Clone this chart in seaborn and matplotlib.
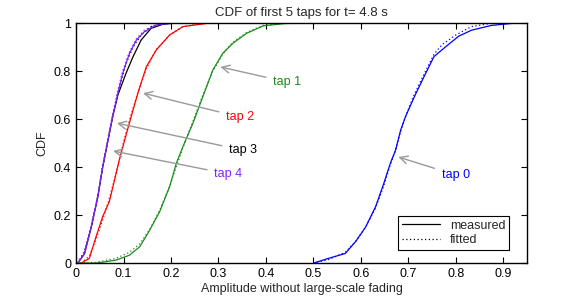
import matplotlib
matplotlib.use("Agg")
import matplotlib.pyplot as plt
from matplotlib.lines import Line2D
import pandas as pd
import seaborn as sns

# donnees (amplitude, CDF)
tap0_x = [0.50, 0.532, 0.567, 0.589, 0.610, 0.631, 0.648, 0.662, 0.673, 0.684, 0.694, 0.712, 0.729, 0.754, 0.778, 0.806, 0.833, 0.875, 0.926]
tap0_y = [0.0, 0.02, 0.04, 0.09, 0.15, 0.235, 0.33, 0.415, 0.47, 0.555, 0.61, 0.69, 0.76, 0.86, 0.90, 0.945, 0.97, 0.99, 1.0]
tap0_fit_x = [0.50, 0.532, 0.567, 0.589, 0.610, 0.631, 0.648, 0.662, 0.673, 0.684, 0.694, 0.712, 0.729, 0.754, 0.771, 0.80, 0.833, 0.875, 0.90]
tap0_fit_y = [0.0, 0.015, 0.045, 0.09, 0.15, 0.23, 0.32, 0.41, 0.47, 0.55, 0.61, 0.70, 0.77, 0.87, 0.91, 0.95, 0.985, 0.999, 1.0]

tap1_x = [0.0, 0.042, 0.084, 0.1125, 0.134, 0.155, 0.176, 0.197, 0.211, 0.225, 0.246, 0.267, 0.288, 0.309, 0.330, 0.359, 0.394, 0.44, 0.49]
tap1_y = [0.0, 0.0, 0.0125, 0.033, 0.068, 0.137, 0.214, 0.318, 0.415, 0.485, 0.582, 0.693, 0.804, 0.874, 0.915, 0.957, 0.988, 0.998, 1.0]
tap1_fit_x = [0.0, 0.042, 0.084, 0.1125, 0.134, 0.155, 0.176, 0.197, 0.211, 0.225, 0.246, 0.267, 0.288, 0.309, 0.330, 0.359, 0.394, 0.44, 0.48]
tap1_fit_y = [0.0, 0.003, 0.02, 0.045, 0.08, 0.14, 0.22, 0.32, 0.40, 0.48, 0.59, 0.70, 0.80, 0.87, 0.92, 0.96, 0.99, 0.999, 1.0]

tap2_x = [0.0105, 0.028, 0.042, 0.056, 0.070, 0.081, 0.091, 0.102, 0.116, 0.130, 0.148, 0.169, 0.197, 0.225, 0.281]
tap2_y = [0.0, 0.02, 0.11, 0.194, 0.256, 0.346, 0.43, 0.51, 0.61, 0.707, 0.818, 0.888, 0.95, 0.985, 1.0]
tap2_fit_x = [0.0105, 0.028, 0.042, 0.056, 0.070, 0.081, 0.091, 0.102, 0.116, 0.130, 0.148, 0.169, 0.197, 0.225, 0.27]
tap2_fit_y = [0.0, 0.03, 0.10, 0.18, 0.27, 0.35, 0.43, 0.52, 0.62, 0.71, 0.81, 0.89, 0.95, 0.985, 1.0]

tap3_x = [0.0035, 0.0176, 0.032, 0.0457, 0.056, 0.067, 0.077, 0.088, 0.105, 0.12, 0.137, 0.158, 0.183, 0.21]
tap3_y = [0.0, 0.039, 0.151, 0.276, 0.40, 0.51, 0.61, 0.70, 0.79, 0.86, 0.929, 0.978, 0.995, 1.0]
tap3_fit_x = [0.0035, 0.0176, 0.032, 0.0457, 0.056, 0.067, 0.077, 0.088, 0.105, 0.12, 0.137, 0.158, 0.183, 0.20]
tap3_fit_y = [0.0, 0.05, 0.15, 0.28, 0.40, 0.51, 0.61, 0.71, 0.83, 0.90, 0.95, 0.985, 0.998, 1.0]

tap4_x = [0.0035, 0.0176, 0.032, 0.0457, 0.056, 0.067, 0.077, 0.088, 0.098, 0.1125, 0.127, 0.144, 0.169, 0.204]
tap4_y = [0.0, 0.039, 0.151, 0.276, 0.40, 0.51, 0.61, 0.707, 0.79, 0.874, 0.929, 0.964, 0.992, 1.0]
tap4_fit_x = [0.0035, 0.0176, 0.032, 0.0457, 0.056, 0.067, 0.077, 0.088, 0.098, 0.1125, 0.127, 0.144, 0.169, 0.20]
tap4_fit_y = [0.0, 0.05, 0.16, 0.28, 0.41, 0.52, 0.62, 0.72, 0.80, 0.88, 0.935, 0.97, 0.995, 1.0]

tap_colors = ["#0000ff", "#1a8c1a", "#ff0000", "#000000", "#8020ff"]

# etiquettes : (texte, pointe de fleche, position du texte)
labels = ["tap 0", "tap 1", "tap 2", "tap 3", "tap 4"]
arrow_tips = [(0.679, 0.442), (0.304, 0.817), (0.141, 0.708), (0.086, 0.583), (0.078, 0.467)]
text_pos = [(0.80, 0.367), (0.445, 0.754), (0.346, 0.608), (0.352, 0.47), (0.321, 0.371)]

series = [
    (tap0_x, tap0_y, tap0_fit_x, tap0_fit_y),
    (tap1_x, tap1_y, tap1_fit_x, tap1_fit_y),
    (tap2_x, tap2_y, tap2_fit_x, tap2_fit_y),
    (tap3_x, tap3_y, tap3_fit_x, tap3_fit_y),
    (tap4_x, tap4_y, tap4_fit_x, tap4_fit_y),
]

sns.set_style("ticks")
plt.rcParams["font.family"] = ["Liberation Sans", "DejaVu Sans"]
plt.rcParams["font.size"] = 9

fig = plt.figure(figsize=(5.81, 2.99), dpi=100)
ax = fig.add_axes([0.131, 0.120, 0.776, 0.803])

for i, (mx, my, fx, fy) in enumerate(series):
    d_m = pd.DataFrame({"x": mx, "y": my})
    d_f = pd.DataFrame({"x": fx, "y": fy})
    sns.lineplot(data=d_m, x="x", y="y", ax=ax, color=tap_colors[i], lw=0.9,
                 estimator=None, sort=False)
    sns.lineplot(data=d_f, x="x", y="y", ax=ax, color=tap_colors[i], lw=0.9,
                 linestyle=(0, (1, 2)), estimator=None, sort=False)

for i, lab in enumerate(labels):
    ax.annotate(lab, xy=arrow_tips[i], xytext=text_pos[i], color=tap_colors[i],
                ha="center", va="center", fontsize=9,
                arrowprops=dict(arrowstyle="->", color="#999999", lw=1,
                                shrinkA=3, shrinkB=0, mutation_scale=14))

ax.set_xlim(0, 0.95)
ax.set_ylim(0, 1)
ax.set_xticks([0, 0.1, 0.2, 0.3, 0.4, 0.5, 0.6, 0.7, 0.8, 0.9])
ax.set_xticklabels(["0", "0.1", "0.2", "0.3", "0.4", "0.5", "0.6", "0.7", "0.8", "0.9"])
ax.set_yticks([0, 0.2, 0.4, 0.6, 0.8, 1])
ax.set_yticklabels(["0", "0.2", "0.4", "0.6", "0.8", "1"])
ax.tick_params(direction="in", top=True, right=True, length=4, width=0.8,
               labelsize=9, colors="black")
for s in ax.spines.values():
    s.set_visible(True)
    s.set_linewidth(1)
    s.set_color("black")

ax.set_title("CDF of first 5 taps for t= 4.8 s", fontsize=9.5, pad=5)
ax.set_xlabel("Amplitude without large-scale fading", fontsize=9, labelpad=2)
ax.set_ylabel("CDF", fontsize=9, labelpad=4)

handles = [Line2D([], [], color="black", lw=0.9),
           Line2D([], [], color="black", lw=0.9, linestyle=(0, (1, 2)))]
leg = ax.legend(handles, ["measured", "fitted"], loc="lower right",
                bbox_to_anchor=(0.96, 0.055), fancybox=False, framealpha=1,
                edgecolor="black", borderaxespad=0, fontsize=9,
                handlelength=3.0, borderpad=0.3, labelspacing=0.2)
leg.get_frame().set_linewidth(0.8)

fig.savefig("out.png", dpi=100)
